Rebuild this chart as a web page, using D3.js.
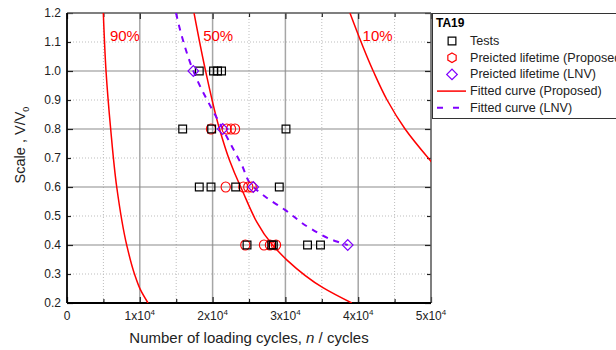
<!DOCTYPE html>
<html>
<head>
<meta charset="utf-8">
<script src="https://cdn.jsdelivr.net/npm/d3@7"></script>
<style>
body { margin: 0; background: #fff; }
text { font-family: "Liberation Sans", Arial, sans-serif; }
</style>
</head>
<body>
<script>
var width = 616,
    height = 350,
    margin = {top: 13, right: 185, bottom: 47, left: 67};

var pw = width - margin.left - margin.right,
    ph = height - margin.top - margin.bottom;

// test results (n, V/V0)
var testsN = [18170, 20130, 20680, 21230, 15890, 19870, 30080, 18170, 19780, 23170, 29160, 24730, 28120, 28340, 33040, 34820];
var testsV = [1.0, 1.0, 1.0, 1.0, 0.8, 0.8, 0.8, 0.6, 0.6, 0.6, 0.6, 0.4, 0.4, 0.4, 0.4, 0.4];

// predicted lifetime (proposed)
var propN = [19780, 21940, 22530, 23080, 21800, 24220, 24900, 25370, 24490, 27060, 27880, 28710];
var propV = [0.8, 0.8, 0.8, 0.8, 0.6, 0.6, 0.6, 0.6, 0.4, 0.4, 0.4, 0.4];

// predicted lifetime (LNV)
var lnvN = [17350, 21390, 25590, 38560];
var lnvV = [1.0, 0.8, 0.6, 0.4];

// fitted curves
var fitLnvV = [1.2, 1.121, 1.0, 0.8, 0.676, 0.6, 0.567, 0.521, 0.458, 0.412, 0.4];
var fitLnvN = [14970, 15760, 17350, 21390, 24000, 25590, 27200, 29950, 33380, 37050, 38560];
var fit90V = [1.2, 1.0, 0.8, 0.6, 0.4, 0.3, 0.245, 0.2];
var fit90N = [4990, 5360, 6000, 6830, 8200, 9270, 10100, 11130];
var fit50V = [1.2, 1.0, 0.8, 0.693, 0.6, 0.4, 0.348, 0.252, 0.2];
var fit50N = [17450, 19040, 20950, 22310, 23860, 28240, 30220, 35210, 39110];
var fit10V = [1.2, 1.0, 0.9, 0.8, 0.693, 0.659];
var fit10N = [38870, 42060, 43970, 46440, 49850, 51010];

var curveLabels = ["90%", "50%", "10%"];
var curveLabelN = [5900, 18700, 40600];

var xTicks = [0, 10000, 20000, 30000, 40000, 50000];
var yTicks = [0.2, 0.3, 0.4, 0.5, 0.6, 0.7, 0.8, 0.9, 1.0, 1.1, 1.2];

var legendTitle = "TA19";
var legendLabels = ["Tests", "Preicted lifetime (Proposed)", "Preicted lifetime (LNV)", "Fitted curve (Proposed)", "Fitted curve (LNV)"];

var red = "#ff0000",
    purple = "#8000ff";

var x = d3.scaleLinear().domain([0, 50000]).range([0, pw]);
var y = d3.scaleLinear().domain([0.2, 1.2]).range([ph, 0]);

var svg = d3.select("body").append("svg")
    .attr("width", width)
    .attr("height", height);

svg.append("defs").append("clipPath")
    .attr("id", "clip")
    .append("rect")
    .attr("width", pw)
    .attr("height", ph);

var g = svg.append("g")
    .attr("transform", "translate(" + margin.left + "," + margin.top + ")");

// grid: minor dotted, major solid
var xMinor = d3.range(5000, 50000, 10000),
    xMajor = [10000, 20000, 30000, 40000],
    yMinor = [0.3, 0.5, 0.7, 0.9, 1.1],
    yMajor = [0.4, 0.6, 0.8, 1.0];

g.selectAll(".xminor").data(xMinor).enter().append("line")
    .attr("x1", x).attr("x2", x).attr("y1", 0).attr("y2", ph)
    .attr("stroke", "#bdbdbd").attr("stroke-dasharray", "1,2");
g.selectAll(".yminor").data(yMinor).enter().append("line")
    .attr("y1", y).attr("y2", y).attr("x1", 0).attr("x2", pw)
    .attr("stroke", "#bdbdbd").attr("stroke-dasharray", "1,2");
g.selectAll(".xmajor").data(xMajor).enter().append("line")
    .attr("x1", x).attr("x2", x).attr("y1", 0).attr("y2", ph)
    .attr("stroke", "#a6a6a6").attr("stroke-width", 1.5);
g.selectAll(".ymajor").data(yMajor).enter().append("line")
    .attr("y1", y).attr("y2", y).attr("x1", 0).attr("x2", pw)
    .attr("stroke", "#8c8c8c").attr("stroke-width", 1.2);

// axes with inward ticks on all sides
var allX = d3.range(0, 50001, 5000);
function axisStyle(sel) {
    sel.select(".domain").remove();
    sel.selectAll(".tick line").attr("stroke", "#222").attr("stroke-width", 1.2);
    sel.selectAll(".tick text").remove();
}
g.append("g").attr("transform", "translate(0," + ph + ")")
    .call(d3.axisBottom(x).tickValues(allX).tickSize(-4))
    .call(axisStyle)
    .selectAll(".tick line").attr("y2", function (d) { return d % 10000 === 0 ? -6 : -4; });
g.append("g")
    .call(d3.axisTop(x).tickValues(allX).tickSize(-4))
    .call(axisStyle)
    .selectAll(".tick line").attr("y2", function (d) { return d % 10000 === 0 ? 6 : 4; });
g.append("g")
    .call(d3.axisLeft(y).tickValues(yTicks).tickSize(-4))
    .call(axisStyle)
    .selectAll(".tick line").attr("x2", function (d, i) { return i % 2 === 0 ? 6 : 4; });
g.append("g").attr("transform", "translate(" + pw + ",0)")
    .call(d3.axisRight(y).tickValues(yTicks).tickSize(-4))
    .call(axisStyle)
    .selectAll(".tick line").attr("x2", function (d, i) { return i % 2 === 0 ? -6 : -4; });

// frame
g.append("line").attr("x1", 0).attr("x2", pw).attr("y1", 0).attr("y2", 0).attr("stroke", "#555").attr("stroke-width", 1.5);
g.append("line").attr("x1", pw).attr("x2", pw).attr("y1", 0).attr("y2", ph).attr("stroke", "#555").attr("stroke-width", 1.5);
g.append("line").attr("x1", 0).attr("x2", pw).attr("y1", ph).attr("y2", ph).attr("stroke", "#000").attr("stroke-width", 1.8);
g.append("line").attr("x1", 0).attr("x2", 0).attr("y1", 0).attr("y2", ph).attr("stroke", "#000").attr("stroke-width", 1.8);

// tick labels
var xl = g.selectAll(".xlab").data(xTicks).enter().append("text")
    .attr("x", x).attr("y", ph + 17)
    .attr("text-anchor", "middle")
    .attr("font-size", 12)
    .attr("fill", "#222");
xl.each(function (d) {
    var t = d3.select(this);
    if (d === 0) { t.text("0"); return; }
    t.append("tspan").text((d / 10000) + "x10");
    t.append("tspan").attr("font-size", 8).attr("dy", -5).text("4");
});

g.selectAll(".ylab").data(yTicks).enter().append("text")
    .attr("x", -6).attr("y", function (d) { return y(d) + 4; })
    .attr("text-anchor", "end")
    .attr("font-size", 12)
    .attr("fill", "#222")
    .text(d3.format(".1f"));

// axis titles
var xt = svg.append("text")
    .attr("x", margin.left + pw / 2).attr("y", 343)
    .attr("text-anchor", "middle")
    .attr("font-size", 15)
    .attr("fill", "#222");
xt.append("tspan").text("Number of loading cycles, ");
xt.append("tspan").attr("font-style", "italic").text("n");
xt.append("tspan").text(" / cycles");

var yt = svg.append("text")
    .attr("transform", "translate(25,145) rotate(-90)")
    .attr("text-anchor", "middle")
    .attr("font-size", 14.5)
    .attr("fill", "#222");
yt.append("tspan").text("Scale , V/V");
yt.append("tspan").attr("font-size", 9).attr("dy", 4).text("0");

// curves
var plot = g.append("g").attr("clip-path", "url(#clip)");

function curvePts(ns, vs) {
    return ns.map(function (n, i) { return [n, vs[i]]; });
}
var line = d3.line()
    .x(function (d) { return x(d[0]); })
    .y(function (d) { return y(d[1]); })
    .curve(d3.curveMonotoneY);

[[fit90N, fit90V], [fit50N, fit50V], [fit10N, fit10V]].forEach(function (c) {
    plot.append("path")
        .datum(curvePts(c[0], c[1]))
        .attr("d", line)
        .attr("fill", "none")
        .attr("stroke", red)
        .attr("stroke-width", 1.5);
});

plot.append("path")
    .datum(curvePts(fitLnvN, fitLnvV))
    .attr("d", line)
    .attr("fill", "none")
    .attr("stroke", purple)
    .attr("stroke-width", 2)
    .attr("stroke-dasharray", "6,6");

g.selectAll(".clab").data(curveLabels).enter().append("text")
    .attr("x", function (d, i) { return x(curveLabelN[i]); })
    .attr("y", 28)
    .attr("font-size", 15)
    .attr("fill", red)
    .text(function (d) { return d; });

// markers
var sq = d3.symbol().type(d3.symbolSquare).size(60);
var dia = d3.symbol().type(d3.symbolSquare).size(56);

g.selectAll(".prop").data(propN).enter().append("ellipse")
    .attr("cx", x)
    .attr("cy", function (d, i) { return y(propV[i]); })
    .attr("rx", 4.6).attr("ry", 5)
    .attr("fill", "none").attr("stroke", red).attr("stroke-width", 1.1);

g.selectAll(".test").data(testsN).enter().append("path")
    .attr("d", sq)
    .attr("transform", function (d, i) { return "translate(" + x(d) + "," + y(testsV[i]) + ")"; })
    .attr("fill", "none").attr("stroke", "#000").attr("stroke-width", 1.2);

g.selectAll(".lnv").data(lnvN).enter().append("path")
    .attr("d", dia)
    .attr("transform", function (d, i) { return "translate(" + x(d) + "," + y(lnvV[i]) + ") rotate(45)"; })
    .attr("fill", "none").attr("stroke", purple).attr("stroke-width", 1.2);

// legend
var lg = svg.append("g").attr("transform", "translate(432,13)");
lg.append("rect")
    .attr("x", 0.5).attr("y", 0.5)
    .attr("width", 200).attr("height", 105)
    .attr("fill", "#fff").attr("stroke", "#333").attr("stroke-width", 1);
lg.append("text")
    .attr("x", 4).attr("y", 14)
    .attr("font-size", 12).attr("font-weight", "bold")
    .attr("fill", "#000")
    .text(legendTitle);

var rowY = function (i) { return 28 + i * 16.7; };
lg.selectAll(".ltext").data(legendLabels).enter().append("text")
    .attr("x", 38).attr("y", function (d, i) { return rowY(i) + 4; })
    .attr("font-size", 12.6).attr("fill", "#222")
    .text(function (d) { return d; });

var hex = d3.range(6).map(function (k) {
    var a = Math.PI / 3 * k;
    return [4.8 * Math.sin(a), -4.8 * Math.cos(a)];
});
lg.append("path").attr("d", sq).attr("transform", "translate(20," + rowY(0) + ")")
    .attr("fill", "none").attr("stroke", "#000").attr("stroke-width", 1.2);
lg.append("path").attr("d", d3.line()(hex) + "Z").attr("transform", "translate(20," + rowY(1) + ")")
    .attr("fill", "none").attr("stroke", red).attr("stroke-width", 1.2);
lg.append("path").attr("d", dia).attr("transform", "translate(20," + rowY(2) + ") rotate(45)")
    .attr("fill", "none").attr("stroke", purple).attr("stroke-width", 1.2);
lg.append("line").attr("x1", 5).attr("x2", 34).attr("y1", rowY(3)).attr("y2", rowY(3))
    .attr("stroke", red).attr("stroke-width", 1.5);
lg.append("line").attr("x1", 5).attr("x2", 34).attr("y1", rowY(4)).attr("y2", rowY(4))
    .attr("stroke", purple).attr("stroke-width", 2).attr("stroke-dasharray", "6,10");
</script>
</body>
</html>
